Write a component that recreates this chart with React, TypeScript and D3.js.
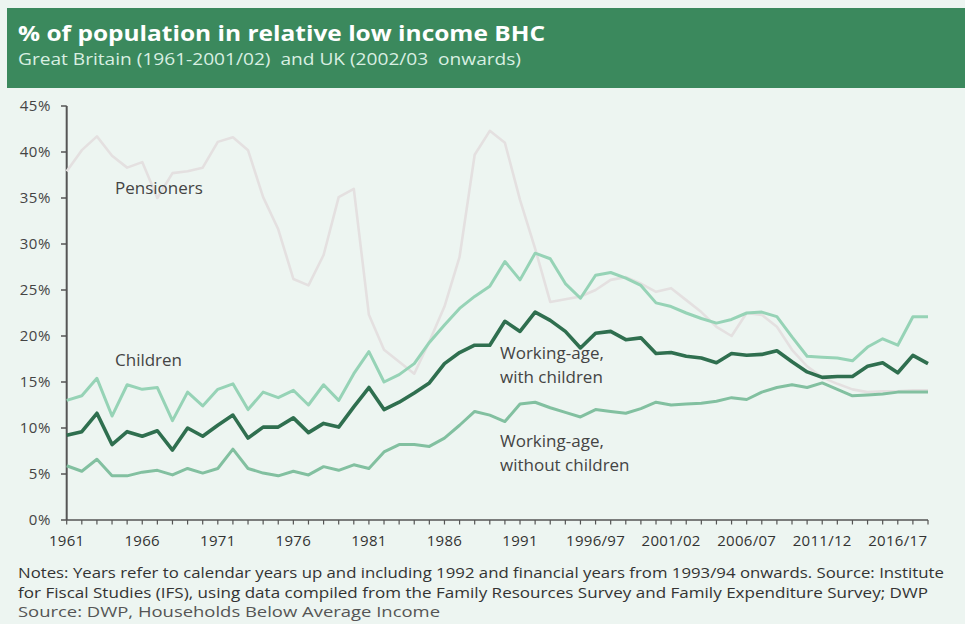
import React from "react";
import * as d3 from "d3";

const categories: string[] = [
  "1961","1962","1963","1964","1965","1966","1967","1968","1969","1970",
  "1971","1972","1973","1974","1975","1976","1977","1978","1979","1980",
  "1981","1982","1983","1984","1985","1986","1987","1988","1989","1990",
  "1991","1992","1993/94","1994/95","1995/96","1996/97","1997/98","1998/99","1999/00","2000/01",
  "2001/02","2002/03","2003/04","2004/05","2005/06","2006/07","2007/08","2008/09","2009/10","2010/11",
  "2011/12","2012/13","2013/14","2014/15","2015/16","2016/17","2017/18","2018/19",
];

const xTickLabels: string[] = ["1961","1966","1971","1976","1981","1986","1991","1996/97","2001/02","2006/07","2011/12","2016/17"];
const yTicks: number[] = [0, 5, 10, 15, 20, 25, 30, 35, 40, 45];

const pensioners: number[] = [
  37.9, 40.2, 41.7, 39.6, 38.3, 38.9, 35.0, 37.7, 37.9, 38.3,
  41.1, 41.6, 40.2, 35.1, 31.6, 26.2, 25.5, 28.8, 35.1, 36.0,
  22.3, 18.5, 17.2, 15.9, 19.4, 23.2, 28.6, 39.7, 42.3, 41.0,
  34.8, 29.5, 23.7, 24.0, 24.3, 25.0, 26.1, 26.4, 25.7, 24.8,
  25.2, 23.9, 22.6, 21.0, 20.0, 22.5, 22.3, 21.0, 18.5, 16.7,
  15.5, 14.8, 14.2, 13.9, 14.0, 14.0, 14.1, 14.1,
];

const children: number[] = [
  13.0, 13.5, 15.4, 11.3, 14.7, 14.2, 14.4, 10.8, 13.9, 12.4,
  14.2, 14.8, 12.0, 13.9, 13.3, 14.1, 12.5, 14.7, 13.0, 15.9,
  18.3, 15.0, 15.8, 17.0, 19.3, 21.2, 23.0, 24.3, 25.4, 28.1,
  26.1, 29.0, 28.4, 25.7, 24.1, 26.6, 26.9, 26.3, 25.5, 23.6,
  23.2, 22.5, 21.9, 21.4, 21.8, 22.5, 22.6, 22.1, 19.9, 17.8,
  17.7, 17.6, 17.3, 18.8, 19.7, 19.0, 22.1, 22.1,
];

const withChildren: number[] = [
  9.2, 9.6, 11.6, 8.2, 9.6, 9.1, 9.7, 7.6, 10.0, 9.1,
  10.3, 11.4, 8.9, 10.1, 10.1, 11.1, 9.5, 10.5, 10.1, 12.3,
  14.4, 12.0, 12.8, 13.8, 14.9, 17.0, 18.2, 19.0, 19.0, 21.6,
  20.5, 22.6, 21.7, 20.5, 18.7, 20.3, 20.5, 19.6, 19.8, 18.1,
  18.2, 17.8, 17.6, 17.1, 18.1, 17.9, 18.0, 18.4, 17.2, 16.1,
  15.5, 15.6, 15.6, 16.7, 17.1, 16.0, 17.9, 17.0,
];

const withoutChildren: number[] = [
  5.9, 5.3, 6.6, 4.8, 4.8, 5.2, 5.4, 4.9, 5.6, 5.1,
  5.6, 7.7, 5.6, 5.1, 4.8, 5.3, 4.9, 5.8, 5.4, 6.0,
  5.6, 7.4, 8.2, 8.2, 8.0, 8.9, 10.3, 11.8, 11.4, 10.7,
  12.6, 12.8, 12.2, 11.7, 11.2, 12.0, 11.8, 11.6, 12.1, 12.8,
  12.5, 12.6, 12.7, 12.9, 13.3, 13.1, 13.9, 14.4, 14.7, 14.4,
  14.9, 14.2, 13.5, 13.6, 13.7, 13.9, 13.9, 13.9,
];

const W = 965;
const H = 624;
const FONT = "'Open Sans', 'Noto Sans', sans-serif";

export default function App() {
  const x = d3.scalePoint<string>().domain(categories).range([66.7, 928]);
  const y = d3.scaleLinear().domain([0, 45]).range([520, 106]);
  const line = d3
    .line<number>()
    .x((_, i) => x(categories[i]) as number)
    .y((d) => y(d));

  const series = [
    { data: pensioners, color: "#e4e0e0", width: 2.6 },
    { data: children, color: "#96d3b6", width: 3 },
    { data: withoutChildren, color: "#82c0a0", width: 3 },
    { data: withChildren, color: "#2f6f4f", width: 3.6 },
  ];

  return (
    <div style={{ position: "absolute", left: 0, top: 0 }}>
      <svg width={W} height={H} style={{ display: "block", background: "#edf5f1" }}>
        <rect x={0} y={0} width={W} height={H} fill="#edf5f1" />
        <rect x={7} y={8} width={W - 7} height={80} fill="#3b895d" />
        <text x={18} y={41} fill="#ffffff" fontFamily={FONT} fontWeight={700} fontSize={22}
          textLength={527} lengthAdjust="spacingAndGlyphs">
          % of population in relative low income BHC
        </text>
        <text x={18} y={65} fill="#d9efe2" fontFamily={FONT} fontSize={16} style={{ whiteSpace: "pre" }}
          textLength={503} lengthAdjust="spacingAndGlyphs">
          {"Great Britain (1961-2001/02)  and UK (2002/03  onwards)"}
        </text>

        {/* y axis */}
        <line x1={66.7} x2={66.7} y1={y(45)} y2={y(0)} stroke="#555" strokeWidth={2} />
        {yTicks.map((t) => (
          <g key={"y" + t}>
            <line x1={61} x2={66.7} y1={y(t)} y2={y(t)} stroke="#555" strokeWidth={1.5} />
            <text x={51} y={y(t) + 5} textAnchor="end" fontFamily={FONT} fontSize={15} fill="#444" letterSpacing={0.6}>
              {t + "%"}
            </text>
          </g>
        ))}

        {/* x axis */}
        <line x1={66.7} x2={928} y1={y(0)} y2={y(0)} stroke="#555" strokeWidth={1.6} />
        {categories.map((c) => (
          <line key={"xt" + c} x1={x(c)} x2={x(c)} y1={y(0)} y2={y(0) + 4.5} stroke="#555" strokeWidth={1.2} />
        ))}
        {xTickLabels.map((c) => (
          <text key={"xl" + c} x={x(c)} y={546} textAnchor="middle" fontFamily={FONT} fontSize={15} fill="#333" letterSpacing={0.3}>
            {c}
          </text>
        ))}

        {series.map((s, k) => (
          <path key={k} d={line(s.data) || ""} fill="none" stroke={s.color} strokeWidth={s.width}
            strokeLinejoin="round" strokeLinecap="butt" />
        ))}

        <g fontFamily={FONT} fontSize={17} fill="#444">
          <text x={115} y={194}>Pensioners</text>
          <text x={115} y={366}>Children</text>
          <text x={500} y={359}>Working-age,</text>
          <text x={500} y={383}>with children</text>
          <text x={500} y={447}>Working-age,</text>
          <text x={500} y={471}>without children</text>
        </g>

        <g fontFamily={FONT} fontSize={15} fill="#333">
          <text x={18} y={578} textLength={926} lengthAdjust="spacingAndGlyphs">
            Notes: Years refer to calendar years up and including 1992 and financial years from 1993/94 onwards. Source: Institute
          </text>
          <text x={18} y={598} textLength={910} lengthAdjust="spacingAndGlyphs">
            for Fiscal Studies (IFS), using data compiled from the Family Resources Survey and Family Expenditure Survey; DWP
          </text>
          <text x={18} y={617} fill="#555" textLength={422} lengthAdjust="spacingAndGlyphs">
            Source: DWP, Households Below Average Income
          </text>
        </g>
      </svg>
    </div>
  );
}
